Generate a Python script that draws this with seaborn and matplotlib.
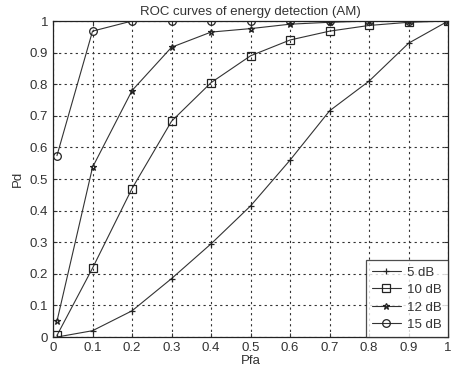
import matplotlib
matplotlib.use("Agg")
import matplotlib.pyplot as plt
import numpy as np
import seaborn as sns

# ROC curves (Pfa vs Pd)
pfa = [0.01, 0.1, 0.2, 0.3, 0.4, 0.5, 0.6, 0.7, 0.8, 0.9, 1.0]
pd_5db = [0.0, 0.02, 0.083, 0.185, 0.295, 0.415, 0.56, 0.716, 0.81, 0.93, 1.0]
pd_10db = [0.005, 0.218, 0.47, 0.683, 0.805, 0.89, 0.94, 0.968, 0.986, 0.996, 1.0]
pd_12db = [0.05, 0.537, 0.78, 0.917, 0.965, 0.976, 0.99, 0.996, 1.0, 1.0, 1.0]
pd_15db = [0.574, 0.968, 1.0, 1.0, 1.0, 1.0, 1.0, 1.0, 1.0, 1.0, 1.0]

labels = ["5 dB", "10 dB", "12 dB", "15 dB"]
markers = ["+", "s", "*", "o"]

sns.set_style("white")
plt.rcParams['font.family'] = ['Liberation Sans', 'DejaVu Sans']

fig = plt.figure(figsize=(4.55, 3.72), dpi=100)
ax = fig.add_axes([0.1165, 0.094, 0.8685, 0.8495])

series = [pd_5db, pd_10db, pd_12db, pd_15db]
for vals, lab, mk in zip(series, labels, markers):
    sns.lineplot(x=pfa, y=vals, ax=ax, color="#333333", lw=0.8,
                 marker=mk, markersize=5.5 if mk in "so" else 4.5,
                 markerfacecolor="none", markeredgecolor="#222222",
                 markeredgewidth=0.9, label=lab)

ax.set_xlim(0, 1)
ax.set_ylim(0, 1)
ticks = np.round(np.arange(0, 1.01, 0.1), 1)
ticklabels = ["0"] + ["%.1f" % t for t in ticks[1:-1]] + ["1"]
ax.set_xticks(ticks)
ax.set_xticklabels(ticklabels)
ax.set_yticks(ticks)
ax.set_yticklabels(ticklabels)
ax.tick_params(direction="in", length=3, labelsize=9.5, colors="#333333",
               top=True, right=True, bottom=True, left=True)
ax.grid(True, color="#333333", linestyle=(0, (2, 3)), lw=0.8)
for s in ax.spines.values():
    s.set_color("#222222")
    s.set_linewidth(0.9)

ax.set_title("ROC curves of energy detection (AM)", fontsize=9.5, color="#333333", pad=4)
ax.set_xlabel("Pfa", fontsize=9.5, color="#333333", labelpad=1)
ax.set_ylabel("Pd", fontsize=9.5, color="#333333", labelpad=4)

leg = ax.legend(loc="lower right", fontsize=9.5, frameon=True, fancybox=False,
                edgecolor="#222222", borderaxespad=0.0, handlelength=2.2,
                handletextpad=0.5, labelspacing=0.4, borderpad=0.45)
leg.get_frame().set_linewidth(0.9)
for t in leg.get_texts():
    t.set_color("#333333")

fig.savefig("out.png", dpi=100)
